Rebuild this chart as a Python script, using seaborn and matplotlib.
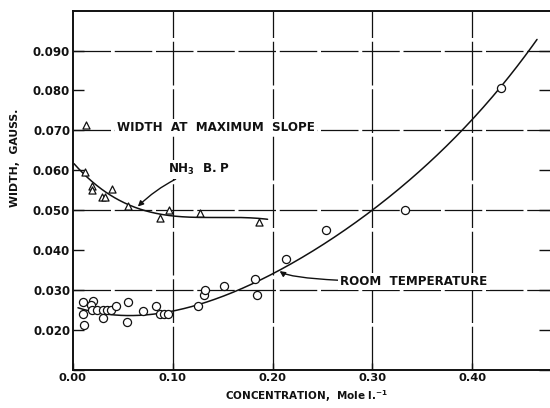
import numpy as np
import pandas as pd
import matplotlib
matplotlib.use("Agg")
import matplotlib.pyplot as plt
import seaborn as sns

# Line widths measured at room temperature (open circles)
room_conc = [0.010, 0.010, 0.011, 0.020, 0.018, 0.019, 0.024, 0.030, 0.034, 0.038,
             0.030, 0.043, 0.055, 0.054, 0.070, 0.083, 0.087, 0.091, 0.095, 0.125,
             0.131, 0.132, 0.151, 0.182, 0.184, 0.213, 0.254, 0.333, 0.429]
room_width = [0.0271, 0.0241, 0.0212, 0.0272, 0.0262, 0.0250, 0.0250, 0.0250, 0.0250, 0.0250,
              0.0231, 0.0261, 0.0270, 0.0220, 0.0249, 0.0260, 0.0240, 0.0240, 0.0240, 0.0260,
              0.0289, 0.0301, 0.0310, 0.0328, 0.0289, 0.0378, 0.0450, 0.0500, 0.0807]

# Line widths measured at the NH3 boiling point (open triangles)
nh3_conc = [0.012, 0.019, 0.019, 0.039, 0.029, 0.032, 0.055, 0.087, 0.096, 0.127, 0.186]
nh3_width = [0.0596, 0.0560, 0.0551, 0.0554, 0.0534, 0.0534, 0.0512, 0.0480, 0.0500, 0.0494, 0.0470]

# Key symbol for the "width at maximum slope" note
key_conc = [0.013]
key_width = [0.0713]

# Faired curves
room_curve_conc = [0.005, 0.037, 0.094, 0.114, 0.127, 0.205, 0.315, 0.391, 0.428, 0.465]
room_curve_width = [0.0255, 0.0241, 0.0244, 0.0256, 0.0264, 0.0348, 0.0530, 0.0703, 0.0807, 0.0928]
nh3_curve_conc = [0.001, 0.004, 0.030, 0.064, 0.100, 0.144, 0.195]
nh3_curve_width = [0.0616, 0.0611, 0.0547, 0.0507, 0.0488, 0.0480, 0.0478]

xticks = [0.0, 0.1, 0.2, 0.3, 0.4]
xtick_labels = ["0.00", "0.10", "0.20", "0.30", "0.40"]
yticks = [0.02, 0.03, 0.04, 0.05, 0.06, 0.07, 0.08, 0.09]
ytick_labels = ["0.020", "0.030", "0.040", "0.050", "0.060", "0.070", "0.080", "0.090"]
yminor = [0.01, 0.02, 0.03, 0.04, 0.05, 0.06, 0.07, 0.08, 0.09]
ygrid = [0.03, 0.05, 0.07, 0.09]


def faired(cx, cy, deg):
    """Smooth polynomial through the sampled points of a drawn curve."""
    coef = np.polyfit(cx, cy, deg)
    xs = np.linspace(min(cx), max(cx), 300)
    return pd.DataFrame({"conc": xs, "width": np.polyval(coef, xs)})


sns.set_theme(style="white")
plt.rcParams["font.family"] = ["DejaVu Sans"]
plt.rcParams["font.weight"] = "bold"

fig = plt.figure(figsize=(5.5, 4.08), dpi=100)
ax = fig.add_axes([0.1327, 0.093, 0.8673, 0.881])

# grid of broken rules
ink = "#111111"
for yv in ygrid:
    ax.axhline(yv, color=ink, lw=0.9, ls=(0, (30, 3)), zorder=1)
for xv in xticks[1:]:
    ax.axvline(xv, color=ink, lw=0.9, ls=(0, (35, 3)), zorder=1)

room_fit = faired(room_curve_conc, room_curve_width, 4)
nh3_fit = faired(nh3_curve_conc, nh3_curve_width, 3)
sns.lineplot(data=room_fit, x="conc", y="width", color=ink, lw=1.1, ax=ax,
             estimator=None, sort=False, zorder=3)
sns.lineplot(data=nh3_fit, x="conc", y="width", color=ink, lw=1.1, ax=ax,
             estimator=None, sort=False, zorder=3)

room_df = pd.DataFrame({"conc": room_conc, "width": room_width})
nh3_df = pd.DataFrame({"conc": nh3_conc, "width": nh3_width})
key_df = pd.DataFrame({"conc": key_conc, "width": key_width})
sns.scatterplot(data=room_df, x="conc", y="width", marker="o", s=34,
                facecolors="white", edgecolor=ink, linewidth=0.9, ax=ax, zorder=4)
sns.scatterplot(data=nh3_df, x="conc", y="width", marker="^", s=26,
                facecolors="white", edgecolor=ink, linewidth=0.9, ax=ax, zorder=4)
sns.scatterplot(data=key_df, x="conc", y="width", marker="^", s=26,
                facecolors="white", edgecolor=ink, linewidth=0.9, ax=ax, zorder=4)

box = dict(facecolor="white", edgecolor="none", pad=1.5)
ax.text(0.044, 0.0708, "WIDTH  AT  MAXIMUM  SLOPE", fontsize=8.6, fontweight="bold",
        ha="left", va="center", color=ink, bbox=box, zorder=5)
ax.annotate("NH$_\\mathbf{3}$  B. P", xy=(0.064, 0.0507), xytext=(0.095, 0.0602),
            fontsize=8.6, fontweight="bold", ha="left", va="center", color=ink,
            bbox=box, zorder=5,
            arrowprops=dict(arrowstyle="-|>", connectionstyle="arc3,rad=0.12",
                            color=ink, lw=1.0, mutation_scale=8, shrinkA=0, shrinkB=1))
ax.annotate("ROOM  TEMPERATURE", xy=(0.206, 0.0350), xytext=(0.268, 0.0321),
            fontsize=8.6, fontweight="bold", ha="left", va="center", color=ink,
            bbox=box, zorder=5,
            arrowprops=dict(arrowstyle="-|>", connectionstyle="angle3,angleA=0,angleB=-45",
                            color=ink, lw=1.0, mutation_scale=8, shrinkA=0, shrinkB=1))

ax.set_xlim(0, 0.478)
ax.set_ylim(0.010, 0.100)
ax.set_xticks(xticks)
ax.set_xticklabels(xtick_labels)
ax.set_yticks(yticks)
ax.set_yticklabels(ytick_labels)
ax.set_yticks(yminor, minor=True)
ax.tick_params(axis="y", which="both", left=True, right=True, direction="in",
               length=8, width=1.0, colors=ink, labelsize=8.5, pad=2)
ax.tick_params(axis="x", bottom=True, direction="in", length=5, width=1.0,
               colors=ink, labelsize=8.2, pad=2)
for lab in ax.get_xticklabels() + ax.get_yticklabels():
    lab.set_fontweight("bold")

for side in ["left", "bottom", "top"]:
    ax.spines[side].set_color(ink)
    ax.spines[side].set_linewidth(1.4)
ax.spines["right"].set_visible(False)

ax.set_xlabel("CONCENTRATION,  Mole l.$^{\\mathbf{-1}}$", fontsize=7.5, fontweight="bold", color=ink)
ax.set_ylabel("WIDTH,  GAUSS.", fontsize=7.8, fontweight="bold", color=ink)
ax.xaxis.set_label_coords(0.49, -0.05)
ax.yaxis.set_label_coords(-0.112, 0.59)

fig.savefig("out.png", dpi=100, facecolor="white")
